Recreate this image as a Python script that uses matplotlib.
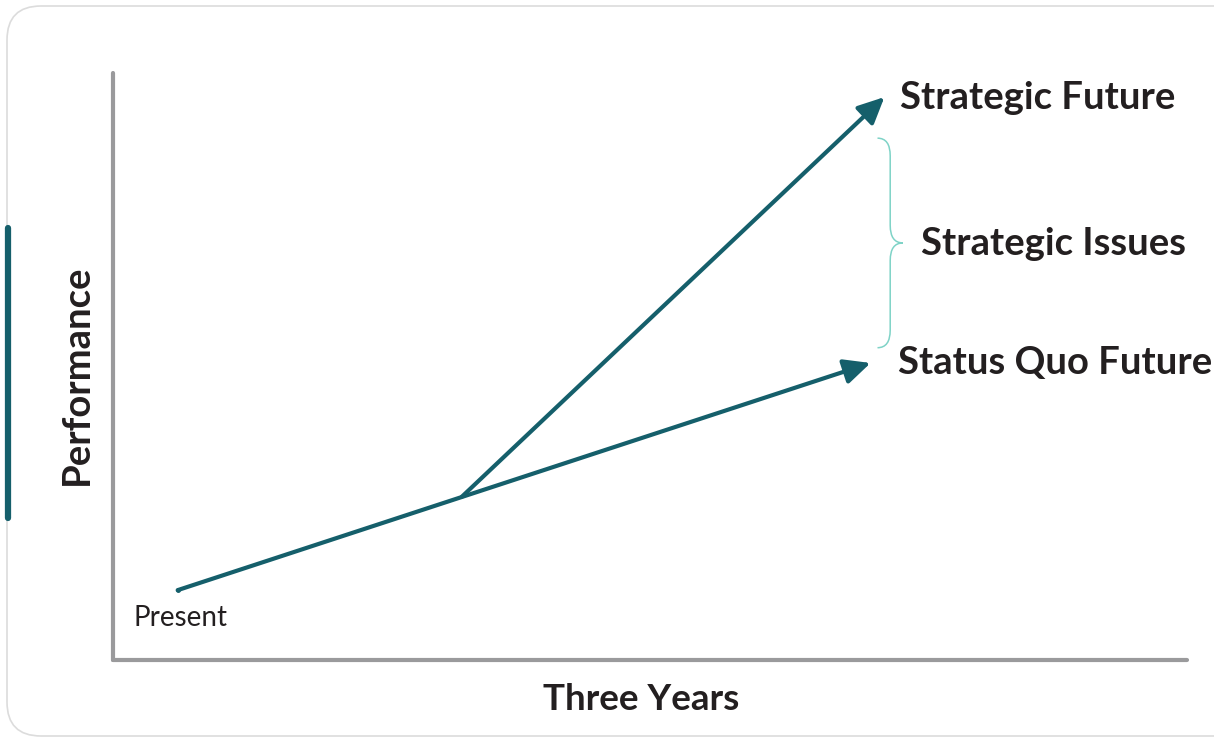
import matplotlib
matplotlib.use('Agg')
import matplotlib.pyplot as plt
from matplotlib.patches import FancyBboxPatch, PathPatch
from matplotlib.path import Path

# ── data (years on x, performance on y) ────────────────────────
present = (0.28, 1.19)
branch = (1.51, 2.78)
status_quo_tip = (3.28, 5.06)
strategic_tip = (3.34, 9.59)

labels = ["Strategic Future", "Strategic Issues", "Status Quo Future"]
label_pos = [(3.407, 9.57), (3.50, 7.09), (3.398, 5.06)]
brace_x = 3.31
brace_y = (5.32, 8.89)

TEAL = "#155f6b"
GRAY = "#9a9a9c"
TEXT = "#231f20"
LIGHT_TEAL = "#7fd3c7"

plt.rcParams['font.family'] = ['Lato', 'DejaVu Sans']

W, H = 1214, 738
fig = plt.figure(figsize=(W / 100, H / 100), dpi=100)

# ── card background with accent bar ───────────────────────────
card = FancyBboxPatch((7 / W, 2 / H), 1.2, (H - 8) / H,
                      boxstyle="round,pad=0,rounding_size=0.028",
                      transform=fig.transFigure, facecolor="white",
                      edgecolor="#dcdcdc", lw=1.2, mutation_aspect=W / H,
                      zorder=-10)
fig.patches.append(card)
fig.add_artist(plt.Line2D([7.5 / W, 7.5 / W], [1 - 228 / H, 1 - 518 / H],
                          transform=fig.transFigure, color=TEAL, lw=4.5,
                          solid_capstyle='round', zorder=-5))

# ── axes ──────────────────────────────────────────────────────
ax = fig.add_axes([113 / W, (H - 660) / H, 1074 / W, 587 / H])
ax.set_xlim(0, 4.65)
ax.set_ylim(0, 10)
ax.patch.set_alpha(0)
for s in ['top', 'right']:
    ax.spines[s].set_visible(False)
for s in ['left', 'bottom']:
    ax.spines[s].set_color(GRAY)
    ax.spines[s].set_linewidth(3)
    ax.spines[s].set_capstyle('round')
ax.set_xticks([])
ax.set_yticks([])

# status quo path: present -> status quo future (one straight line)
arrow_kw = dict(arrowstyle='-|>,head_length=0.8,head_width=0.38', color=TEAL,
                lw=3, mutation_scale=20, shrinkA=0, shrinkB=0)
ax.annotate('', xy=status_quo_tip, xytext=present, arrowprops=arrow_kw)
ax.annotate('', xy=strategic_tip, xytext=branch, arrowprops=arrow_kw)
ax.plot([present[0]], [present[1]], marker='o', ms=2.5, color=TEAL)

# brace
y0, y1 = brace_y
ym = (y0 + y1) / 2
dx = 0.055
tip = 0.11
verts = [
    (brace_x, y1), (brace_x + dx, y1), (brace_x + dx, y1 - 0.3),
    (brace_x + dx, ym + 0.3),
    (brace_x + dx, ym), (brace_x + tip, ym), (brace_x + tip, ym),
    (brace_x + tip, ym), (brace_x + dx, ym), (brace_x + dx, ym - 0.3),
    (brace_x + dx, y0 + 0.3),
    (brace_x + dx, y0), (brace_x, y0), (brace_x, y0),
]
codes = [Path.MOVETO, Path.CURVE3, Path.CURVE3, Path.LINETO,
         Path.CURVE3, Path.CURVE3, Path.LINETO,
         Path.MOVETO, Path.CURVE3, Path.CURVE3, Path.LINETO,
         Path.CURVE3, Path.CURVE3, Path.LINETO]
ax.add_patch(PathPatch(Path(verts, codes), fill=False, edgecolor=LIGHT_TEAL,
                       lw=1.1, clip_on=False))

for txt, (x, y) in zip(labels, label_pos):
    ax.text(x, y, txt, fontsize=27.5, fontweight='bold', color=TEXT,
            va='center', ha='left', clip_on=False)

ax.text(0.087, 0.72, "Present", fontsize=20, color=TEXT, va='center', ha='left')

fig.text(641 / W, 1 - 700 / H, "Three Years", fontsize=26.5, fontweight='bold',
         color=TEXT, ha='center', va='center')
fig.text(77 / W, 1 - 375 / H, "Performance", fontsize=27.5, fontweight='bold',
         color=TEXT, ha='center', va='center', rotation=90)

fig.savefig("out.png", dpi=100)
